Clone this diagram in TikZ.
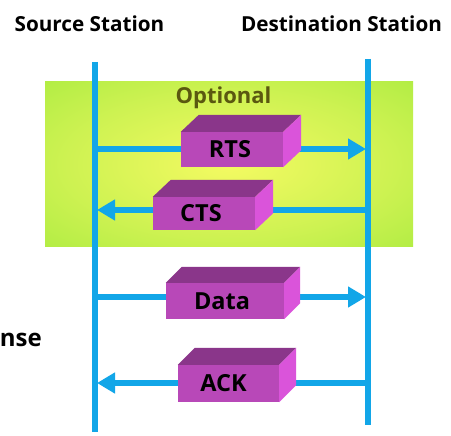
\documentclass[tikz,border=0pt]{standalone}
\usepackage{fontspec}
\setmainfont{Open Sans}
\usetikzlibrary{arrows.meta,calc}
\definecolor{lineblue}{RGB}{18,166,232}
\definecolor{frontc}{RGB}{184,72,184}
\definecolor{topc}{RGB}{138,54,138}
\definecolor{sidec}{RGB}{218,84,218}
\definecolor{optc}{RGB}{90,88,16}
\definecolor{gin}{RGB}{244,250,98}
\definecolor{gmid}{RGB}{206,242,82}
\definecolor{gout}{RGB}{150,232,54}
\pgfdeclareradialshading{optshade}{\pgfpoint{0bp}{0bp}}{%
  color(0bp)=(gin); color(22bp)=(gmid); color(50bp)=(gout); color(100bp)=(gout)}
\tikzset{
  lifeline/.style={draw=lineblue, line width=6pt},
  msg/.style={draw=lineblue, line width=6pt, -{Triangle[length=18pt,width=20pt]}},
  pkt/.style={fill=frontc, draw=none, inner sep=0pt, font=\bfseries\fontsize{23.5}{26}\selectfont},
  title/.style={font=\bfseries\fontsize{20.7}{24}\selectfont, inner sep=0pt},
}
\newcommand\pktfaces[3]{%
  \fill[topc] (#1.north west) -- ++(#2,-#3) -- ($(#1.north east)+(#2,-#3)$) -- (#1.north east) -- cycle;
  \fill[sidec] (#1.north east) -- ++(#2,-#3) -- ($(#1.south east)+(#2,-#3)$) -- (#1.south east) -- cycle;}
\newcommand\pkttext[2]{\raisebox{-3pt}{\kern#1pt #2}}
\begin{document}
\begin{tikzpicture}[x=1pt,y=-1pt]
\useasboundingbox (0,0) rectangle (451,436);
\fill[white] (0,0) rectangle (451,436);
% optional region
\shade[shading=optshade] (45,82) rectangle (413,247);
\node[font=\bfseries\fontsize{22}{24}\selectfont, text=optc, inner sep=0pt, anchor=base] (opt) at (223.5,104) {Optional};
% titles
\node[title, anchor=base] (src) at (89.5,32) {Source Station};
\node[title, anchor=base] (dst) at (341.5,32) {Destination Station};
\node[title, font=\bfseries\fontsize{24}{26}\selectfont, anchor=base east] (resp) at (42,347) {nse};
% lifelines
\coordinate (srcTop) at (95,62);
\coordinate (srcBot) at (95,432);
\coordinate (dstTop) at (368,59);
\coordinate (dstBot) at (368,425);
\draw[lifeline] (srcTop) -- (srcBot);
\draw[lifeline] (dstTop) -- (dstBot);
% message end points
\coordinate (s1) at (95,149);  \coordinate (d1) at (366,149);
\coordinate (d2) at (368,210); \coordinate (s2) at (97,210);
\coordinate (s3) at (95,297);  \coordinate (d3) at (366,297);
\coordinate (d4) at (368,383); \coordinate (s4) at (97,383);
\draw[msg] (s1) -- (d1);
\draw[msg] (d2) -- (s2);
\draw[msg] (s3) -- (d3);
\draw[msg] (d4) -- (s4);
% packets
\node[pkt, minimum width=102pt, minimum height=35pt] (rts) at (232,149.5) {\pkttext{-4}{RTS}};
\pktfaces{rts}{18}{17}
\node[pkt, minimum width=102pt, minimum height=33pt] (cts) at (204,213.5) {\pkttext{-6}{CTS}};
\pktfaces{cts}{18}{17}
\node[pkt, minimum width=118pt, minimum height=36pt] (data) at (225,301) {\pkttext{-6}{Data}};
\pktfaces{data}{16}{16}
\node[pkt, minimum width=101pt, minimum height=37pt] (ack) at (228.5,383.5) {\pkttext{-10}{ACK}};
\pktfaces{ack}{17}{17}
\end{tikzpicture}
\end{document}
